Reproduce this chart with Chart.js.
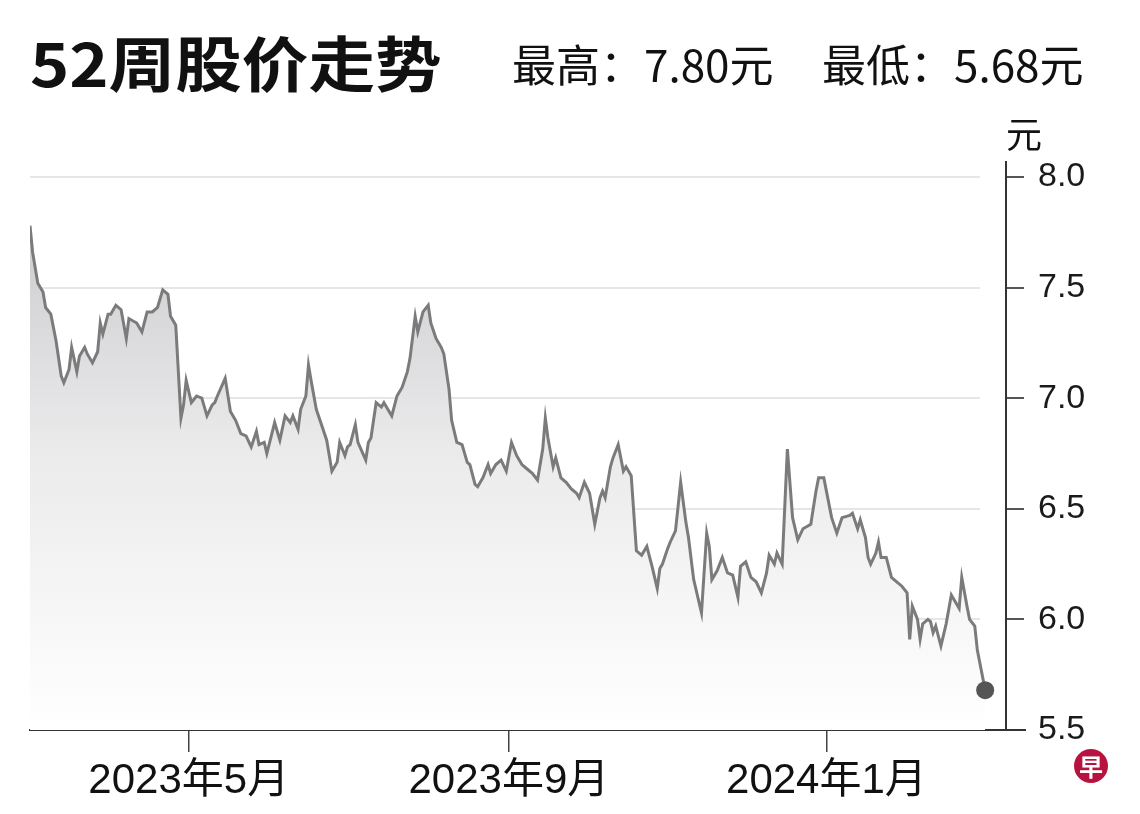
<!DOCTYPE html>
<html>
<head>
<meta charset="utf-8">
<script src="https://cdn.jsdelivr.net/npm/chart.js@4"></script>
<style>
  html, body { margin: 0; padding: 0; background: #fff; }
  #wrap { position: relative; width: 1140px; height: 814px; overflow: hidden; }
  #stockChart { position: absolute; left: 0; top: 0; }
  .txt { position: absolute; white-space: nowrap; color: #111; line-height: 1; font-family: "Noto Sans CJK SC", "Liberation Sans", sans-serif; }
  #title { left: 30px; top: 31px; font-size: 60px; font-weight: 700; transform: scaleX(1.11); transform-origin: left top; }
  #hi { left: 512px; top: 41px; font-size: 44px; }
  #lo { left: 822px; top: 41px; font-size: 44px; }
  #unit { left: 1006px; top: 114px; font-size: 36px; }
</style>
</head>
<body>
<div id="wrap">
  <canvas id="stockChart" width="1140" height="814"></canvas>
  <div class="txt" id="title">52周股价走势</div>
  <div class="txt" id="hi">最高：7.80元</div>
  <div class="txt" id="lo">最低：5.68元</div>
  <div class="txt" id="unit">元</div>
</div>
<script>
// days counted from 2023-03-01
const days = [0, 1, 3, 5, 6, 8, 10, 12, 13, 15, 16, 18, 19, 21, 22, 24, 26, 27, 28, 30,
    31, 33, 35, 37, 38, 41, 43, 45, 47, 49, 51, 53, 54, 56, 58, 59, 60, 62, 64, 66,
    68, 70, 71, 72, 75, 77, 79, 81, 83, 85, 87, 88, 90, 91, 94, 96, 98, 100, 101, 103,
    104, 106, 107, 108, 110, 114, 116, 118, 119, 121, 122, 123, 125, 126, 129, 130, 131, 133, 135, 136,
    139, 141, 143, 145, 146, 148, 149, 151, 153, 154, 156, 158, 159, 161, 162, 164, 166, 168, 169, 171,
    172, 174, 176, 177, 179, 181, 183, 185, 187, 189, 191, 193, 195, 197, 198, 199, 201, 202, 204, 206,
    208, 210, 211, 213, 215, 217, 219, 220, 221, 223, 224, 226, 228, 229, 231, 233, 235, 237, 239, 241,
    242, 243, 245, 246, 248, 250, 252, 253, 255, 258, 260, 261, 262, 264, 266, 268, 270, 272, 273, 275,
    277, 279, 281, 283, 284, 286, 287, 289, 290, 291, 293, 295, 297, 300, 302, 303, 305, 306, 308, 310,
    312, 315, 316, 318, 319, 321, 322, 323, 325, 326, 327, 329, 331, 333, 335, 337, 338, 339, 341, 342,
    343, 345, 346, 347, 348, 350, 352, 354, 355, 357, 358, 360, 361, 363, 364, 366, 367];

const prices = [7.78, 7.66, 7.52, 7.48, 7.41, 7.38, 7.26, 7.10, 7.07, 7.13, 7.23, 7.12, 7.19, 7.23, 7.20, 7.16, 7.21, 7.34, 7.29, 7.38,
    7.38, 7.42, 7.40, 7.27, 7.36, 7.34, 7.30, 7.39, 7.39, 7.41, 7.49, 7.47, 7.37, 7.33, 6.91, 6.97, 7.08, 6.98, 7.01, 7.00,
    6.92, 6.97, 6.98, 7.01, 7.09, 6.94, 6.90, 6.84, 6.83, 6.78, 6.85, 6.79, 6.80, 6.75, 6.89, 6.81, 6.92, 6.89, 6.92, 6.86,
    6.95, 7.01, 7.15, 7.08, 6.95, 6.81, 6.67, 6.71, 6.80, 6.74, 6.78, 6.79, 6.88, 6.80, 6.72, 6.80, 6.82, 6.98, 6.96, 6.98,
    6.92, 7.01, 7.05, 7.12, 7.18, 7.37, 7.30, 7.39, 7.42, 7.34, 7.27, 7.23, 7.20, 7.04, 6.90, 6.80, 6.79, 6.71, 6.70, 6.61,
    6.60, 6.64, 6.70, 6.66, 6.70, 6.72, 6.67, 6.80, 6.74, 6.70, 6.68, 6.66, 6.63, 6.77, 6.91, 6.82, 6.69, 6.73, 6.64, 6.62,
    6.59, 6.57, 6.55, 6.62, 6.57, 6.43, 6.55, 6.58, 6.55, 6.69, 6.73, 6.79, 6.67, 6.69, 6.65, 6.31, 6.29, 6.33, 6.24, 6.14,
    6.23, 6.25, 6.32, 6.35, 6.40, 6.62, 6.44, 6.37, 6.18, 6.03, 6.39, 6.33, 6.18, 6.22, 6.28, 6.21, 6.20, 6.10, 6.24, 6.26,
    6.19, 6.17, 6.12, 6.21, 6.29, 6.25, 6.30, 6.25, 6.51, 6.77, 6.46, 6.36, 6.41, 6.43, 6.58, 6.64, 6.64, 6.58, 6.46, 6.39,
    6.46, 6.47, 6.48, 6.41, 6.45, 6.37, 6.28, 6.25, 6.30, 6.35, 6.28, 6.28, 6.19, 6.17, 6.15, 6.12, 5.91, 6.06, 6.00, 5.91,
    5.98, 6.00, 5.99, 5.94, 5.97, 5.88, 5.98, 6.11, 6.09, 6.05, 6.19, 6.06, 6.00, 5.97, 5.86, 5.74, 5.68];

const tickDays = [61, 184, 306];
const tickLabels = ['2023年5月', '2023年9月', '2024年1月'];
const yTicks = [5.5, 6.0, 6.5, 7.0, 7.5, 8.0];

const points = days.map((d, i) => ({ x: d, y: prices[i] }));
const lastIndex = prices.length - 1;

// light grid lines that stop short of the axis, axis stubs and the logo
const extras = {
    id: 'extras',
    beforeDatasetsDraw(chart) {
        const ctx = chart.ctx;
        const area = chart.chartArea;
        const y = chart.scales.y;
        ctx.save();
        ctx.strokeStyle = '#e6e6e6';
        ctx.lineWidth = 2;
        yTicks.slice(1).forEach(v => {
            const py = Math.round(y.getPixelForValue(v));
            ctx.beginPath();
            ctx.moveTo(area.left, py);
            ctx.lineTo(area.right - 26, py);
            ctx.stroke();
        });
        ctx.restore();
    },
    afterDraw(chart) {
        const ctx = chart.ctx;
        const area = chart.chartArea;
        ctx.save();
        ctx.strokeStyle = '#333';
        ctx.lineWidth = 2;
        ctx.beginPath();
        ctx.moveTo(area.right, area.top - 16);
        ctx.lineTo(area.right, area.top);
        ctx.moveTo(area.right, area.bottom);
        ctx.lineTo(area.right + 20, area.bottom);
        ctx.stroke();

        ctx.fillStyle = '#b8123f';
        ctx.beginPath();
        ctx.arc(1091, 766, 17, 0, Math.PI * 2);
        ctx.fill();
        ctx.fillStyle = '#fff';
        ctx.font = 'bold 24px "Noto Sans CJK SC"';
        ctx.textAlign = 'center';
        ctx.textBaseline = 'middle';
        ctx.fillText('早', 1091, 767);
        ctx.restore();
    }
};

const ctx = document.getElementById('stockChart').getContext('2d');

new Chart(ctx, {
    type: 'line',
    data: {
        datasets: [{
            data: points,
            borderColor: '#7b7b7b',
            borderWidth: 3,
            tension: 0,
            fill: 'start',
            backgroundColor: function(context) {
                const area = context.chart.chartArea;
                if (!area) {
                    return '#e0e0e0';
                }
                const g = context.chart.ctx.createLinearGradient(0, area.top, 0, area.bottom);
                g.addColorStop(0, '#c6c6ca');
                g.addColorStop(0.5, '#ebebec');
                g.addColorStop(1, '#ffffff');
                return g;
            },
            pointRadius: c => c.dataIndex === lastIndex ? 9 : 0,
            pointBackgroundColor: '#555555',
            pointBorderWidth: 0
        }]
    },
    options: {
        responsive: false,
        animation: false,
        devicePixelRatio: 1,
        layout: {
            padding: { left: 30, top: 177, right: 0, bottom: 0 }
        },
        plugins: {
            legend: { display: false },
            tooltip: { enabled: false }
        },
        scales: {
            x: {
                type: 'linear',
                min: 0,
                max: 375,
                afterBuildTicks: scale => {
                    scale.ticks = tickDays.map(v => ({ value: v }));
                },
                afterFit: scale => {
                    scale.height = 84;
                },
                ticks: {
                    autoSkip: false,
                    maxRotation: 0,
                    padding: 4,
                    color: '#111111',
                    font: { family: '"Liberation Sans", "Noto Sans CJK SC"', size: 42 },
                    callback: v => tickLabels[tickDays.indexOf(v)]
                },
                grid: {
                    drawOnChartArea: false,
                    tickLength: 22,
                    color: '#444444',
                    lineWidth: 1.5
                },
                border: { color: '#333333', width: 2 }
            },
            y: {
                position: 'right',
                min: 5.5,
                max: 8.0,
                afterBuildTicks: scale => {
                    scale.ticks = yTicks.map(v => ({ value: v }));
                },
                afterFit: scale => {
                    scale.width = 134;
                },
                ticks: {
                    padding: 14,
                    color: '#1a1a1a',
                    font: { family: '"Liberation Sans"', size: 34 },
                    callback: v => v.toFixed(1)
                },
                grid: {
                    drawOnChartArea: false,
                    tickLength: 18,
                    color: '#555555',
                    lineWidth: 2
                },
                border: { color: '#333333', width: 2 }
            }
        }
    },
    plugins: [extras]
});
</script>
</body>
</html>
